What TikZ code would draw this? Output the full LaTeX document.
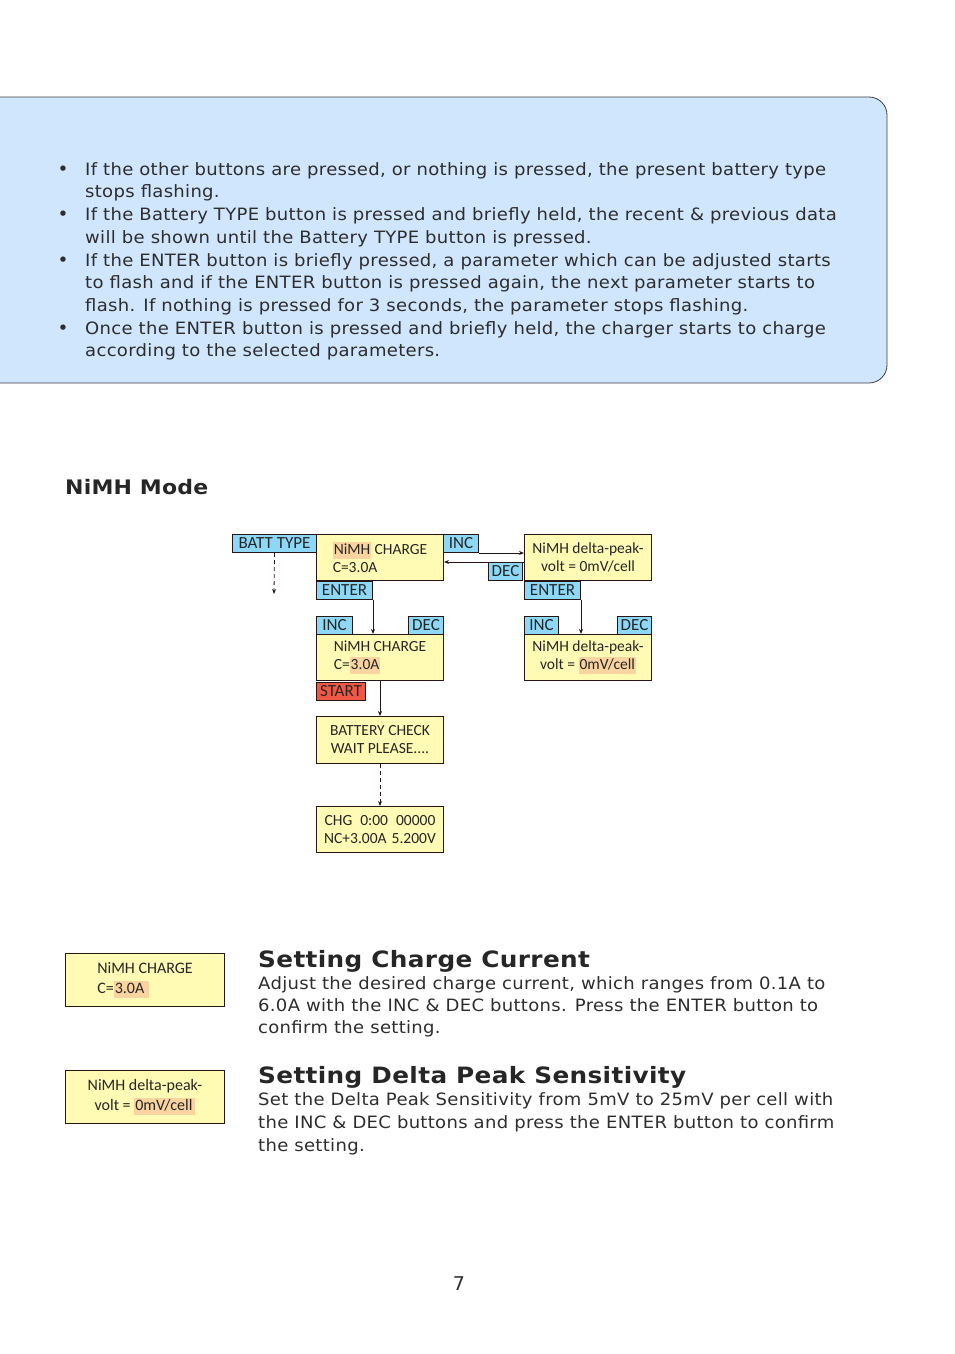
\documentclass[tikz,border=0pt]{standalone}
\usepackage{fontspec}
\usetikzlibrary{arrows.meta}
\setmainfont{DejaVu Sans}
\newfontfamily\bodyf[FakeStretch=1.06,LetterSpace=1.8]{DejaVu Sans}
\newfontfamily\headf[FakeStretch=1.1,LetterSpace=1.6]{DejaVu Sans Bold}
\newfontfamily\modef[FakeStretch=1.1,LetterSpace=1]{DejaVu Sans Bold}
\newfontfamily\diagf{Carlito}
\definecolor{panel}{RGB}{208,230,252}
\definecolor{panelline}{RGB}{60,60,70}
\definecolor{boxy}{RGB}{255,250,180}
\definecolor{labb}{RGB}{140,216,246}
\definecolor{startr}{RGB}{240,88,70}
\definecolor{hlc}{RGB}{250,212,160}
\definecolor{boxline}{RGB}{40,22,22}
\definecolor{txt}{RGB}{45,45,45}
\newcommand\hlt[1]{{\setlength{\fboxsep}{1pt}\colorbox{hlc}{\rule[-4pt]{0pt}{15pt}#1}}}
\begin{document}
\begin{tikzpicture}[x=1pt,y=-1pt,
  bl/.style={anchor=base west,inner sep=0pt,font=\bodyf\fontsize{17}{20}\selectfont,text=txt},
  bul/.style={anchor=base,inner sep=0pt,font=\fontsize{18.5}{20}\selectfont,text=txt},
  hd/.style={anchor=base west,inner sep=0pt,font=\headf\fontsize{22.5}{26}\selectfont,text=black!85},
  dbox/.style={draw=boxline,fill=boxy,line width=1pt,font=\diagf\fontsize{15.5}{18}\selectfont,text=black!85,
    inner sep=0pt,anchor=north west,minimum width=127pt,minimum height=46pt},
  lab/.style={draw=boxline,fill=labb,line width=1pt,font=\diagf\fontsize{17}{18}\selectfont,text=black!85,
    inner sep=0pt,anchor=north west,minimum height=18pt},
  arr/.style={draw=boxline,line width=0.8pt,-{Stealth[length=5pt,width=4pt]}},
  dsh/.style={dash pattern=on 4pt off 3pt}
]
\useasboundingbox (0,0) rectangle (954,1354);
% panel
\draw[panelline,fill=panel,line width=0.8pt,rounded corners=18pt] (-30,97) rectangle (887,383);
% bullets
\node[bul] (b1) at (63,175) {•};
\node[bul] (b2) at (63,220) {•};
\node[bul] (b3) at (63,266) {•};
\node[bul] (b4) at (63,334) {•};
\node[bl] (l1) at (85,175) {If the other buttons are pressed, or nothing is pressed, the present battery type};
\node[bl] (l2) at (85,197) {stops flashing.};
\node[bl] (l3) at (85,220) {If the Battery TYPE button is pressed and briefly held, the recent \& previous data};
\node[bl] (l4) at (85,243) {will be shown until the Battery TYPE button is pressed.};
\node[bl] (l5) at (85,266) {If the ENTER button is briefly pressed, a parameter which can be adjusted starts};
\node[bl] (l6) at (85,288) {to flash and if the ENTER button is pressed again, the next parameter starts to};
\node[bl] (l7) at (85,311) {flash. If nothing is pressed for 3 seconds, the parameter stops flashing.};
\node[bl] (l8) at (85,334) {Once the ENTER button is pressed and briefly held, the charger starts to charge};
\node[bl] (l9) at (85,356) {according to the selected parameters.};
% heading
\node[anchor=base west,inner sep=0pt,font=\modef\fontsize{20}{24}\selectfont,text=black!85] (mode) at (65,494) {NiMH Mode};
% diagram
\node[lab,minimum width=84pt] (batt) at (232,534) {BATT TYPE};
\node[dbox,align=left] (box1) at (316,534) {\hlt{NiMH} CHARGE\\C=3.0A};
\node[lab,minimum width=35pt] (inc1) at (443,534) {INC};
\node[lab,minimum width=34pt] (dec1) at (488,562) {DEC};
\node[dbox,align=center] (box2) at (524,534) {NiMH delta-peak-\\volt = 0mV/cell};
\node[lab,minimum width=56pt] (ent1) at (316,580.5) {ENTER};
\node[lab,minimum width=56pt] (ent2) at (524,580.5) {ENTER};
\node[lab,minimum width=36pt] (inc3) at (316,616) {INC};
\node[lab,minimum width=35pt] (dec3) at (408,616) {DEC};
\node[dbox,align=left] (box3) at (316,634) {NiMH CHARGE\\C=\hlt{3.0A}};
\node[lab,minimum width=34pt] (inc6) at (524,616) {INC};
\node[lab,minimum width=34pt] (dec6) at (617,616) {DEC};
\node[dbox,align=center] (box6) at (524,634) {NiMH delta-peak-\\volt = \hlt{0mV/cell}};
\node[lab,fill=startr,minimum width=49pt] (start) at (316,681.5) {START};
\node[dbox,align=center,minimum height=47pt] (box4) at (316,716) {BATTERY CHECK\\WAIT PLEASE....};
\node[dbox,align=center] (box5) at (316,806) {CHG\hspace{8pt}0:00\hspace{8pt}00000\\NC+3.00A\hspace{5pt}5.200V};
\coordinate (bend) at (274,594);
\draw[arr,dsh] (batt.south) -- (bend);
\draw[arr] (inc1.south east) -- (inc1.south east -| box2.west);
\draw[arr] (dec1.north -| box2.west) -- (dec1.north -| box1.east);
\draw[arr] (ent1.south east) -- (ent1.south east |- box3.north);
\draw[arr] (ent2.south east) -- (ent2.south east |- box6.north);
\draw[arr] (box3.south) -- (box4.north);
\draw[arr,dsh] (box4.south) -- (box5.north);
% bottom examples
\node[dbox,align=left,minimum width=159pt,minimum height=53pt,font=\diagf\fontsize{16}{20}\selectfont] (box7) at (65,953) {NiMH CHARGE\\C=\hlt{3.0A\hspace{4pt}}};
\node[dbox,align=center,minimum width=159pt,minimum height=53pt,font=\diagf\fontsize{16}{20}\selectfont] (box8) at (65,1070) {NiMH delta-peak-\\volt = \hlt{0mV/cell\hspace{2pt}}};
\node[hd] (s1) at (258,967) {Setting Charge Current};
\node[bl] (d1) at (258,989) {Adjust the desired charge current, which ranges from 0.1A to};
\node[bl] (d2) at (258,1011) {6.0A with the INC \& DEC buttons. Press the ENTER button to};
\node[bl] (d3) at (258,1033) {confirm the setting.};
\node[hd] (s2) at (258,1083) {Setting Delta Peak Sensitivity};
\node[bl] (e1) at (258,1105) {Set the Delta Peak Sensitivity from 5mV to 25mV per cell with};
\node[bl] (e2) at (258,1128) {the INC \& DEC buttons and press the ENTER button to confirm};
\node[bl] (e3) at (258,1151) {the setting.};
\node[anchor=base,inner sep=0pt,font=\fontsize{19}{22}\selectfont,text=txt] (pg) at (459,1290) {7};
\end{tikzpicture}
\end{document}
